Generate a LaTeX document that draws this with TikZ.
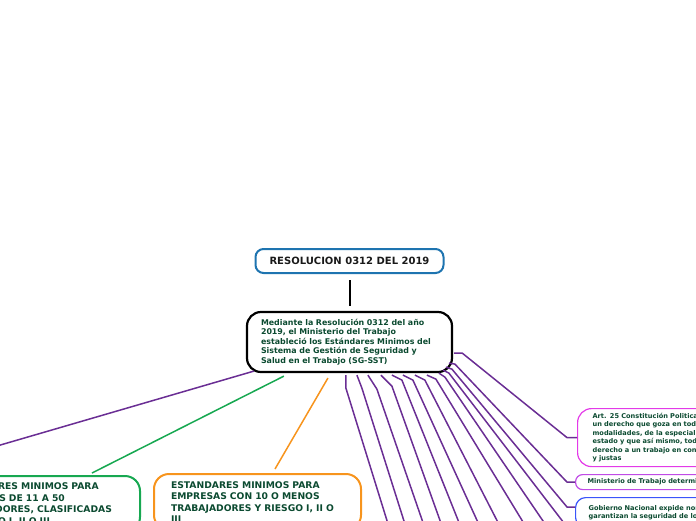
\documentclass[tikz,border=0pt]{standalone}
\usepackage{fontspec}
\setmainfont{DejaVu Sans}
\usetikzlibrary{calc}
\definecolor{txt}{HTML}{0B4A30}
\definecolor{purp}{HTML}{6A2E94}
\definecolor{grn}{HTML}{17A851}
\definecolor{org}{HTML}{F7941D}
\definecolor{topblue}{HTML}{1E74B0}
\definecolor{pinkc}{HTML}{E33AE8}
\definecolor{magc}{HTML}{C04BE6}
\definecolor{bluc}{HTML}{3A55FA}
\begin{document}
\begin{tikzpicture}[x=1pt,y=-1pt,
  topbox/.style={draw=topblue,line width=2pt,rounded corners=8pt,minimum width=188pt,minimum height=24pt,inner sep=0pt,font=\fontsize{10}{12}\selectfont\bfseries,text=black!90},
  mainbox/.style={draw=black,line width=2.2pt,rounded corners=14pt,text width=177pt,inner xsep=14pt,inner ysep=0pt,minimum height=60pt,align=left,font=\fontsize{7.9}{9.5}\selectfont\bfseries,text=txt},
  catbox/.style={line width=2pt,rounded corners=15pt,text width=173pt,inner xsep=17pt,inner ysep=0pt,minimum height=56pt,align=left,anchor=north west,font=\fontsize{9.2}{11.5}\selectfont\bfseries,text=txt},
  sidebox/.style={line width=1.2pt,rounded corners=12pt,text width=260pt,inner ysep=0pt,align=left,anchor=north west,font=\fontsize{6.6}{8.4}\selectfont\bfseries,text=txt},
  pl/.style={draw=purp,line width=1.5pt,line join=round},
  gl/.style={draw=grn,line width=1.5pt},
  ol/.style={draw=org,line width=1.5pt},
]
\useasboundingbox (0,0) rectangle (696,520);
\clip (0,0) rectangle (696,520);

% nodes
\node[topbox] (t) at (349.5,261) {RESOLUCION 0312 DEL 2019};
\node[mainbox] (m) at (349.5,342) {Mediante la Resolución 0312 del año\\2019, el Ministerio del Trabajo\\estableció los Estándares Minimos del\\Sistema de Gestión de Seguridad y\\Salud en el Trabajo (SG-SST)};
\node[catbox,draw=org] (o) at (153,473) {ESTANDARES MINIMOS PARA\\EMPRESAS CON 10 O MENOS\\TRABAJADORES Y RIESGO I, II O\\III};
\node[catbox,draw=grn] (gr) at (-68,475) {ESTANDARES MINIMOS PARA\\EMPRESAS DE 11 A 50\\TRABAJADORES, CLASIFICADAS\\EN RIESGO I, II O III};
\node[sidebox,draw=pinkc,inner xsep=15pt,minimum height=58pt,rounded corners=14pt] (p) at (577,408) {Art. 25 Constitución Politica: el trabajo es\\un derecho que goza en todas sus\\modalidades, de la especial protección del\\estado y que así mismo, toda persona tiene\\derecho a un trabajo en condiciones dignas\\y justas};
\node[sidebox,draw=magc,inner xsep=12pt,minimum height=15pt,rounded corners=7pt] (mi) at (575,474) {Ministerio de Trabajo determina};
\node[sidebox,draw=bluc,inner xsep=13pt,minimum height=30pt,rounded corners=10pt] (g) at (575,497) {Gobierno Nacional expide normas que\\garantizan la seguridad de los trabajadores};

% free ends
\coordinate (L) at (-60,462.6);
\coordinate (b1) at (393,540);
\coordinate (b2) at (410,540);
\coordinate (b3) at (429,540);
\coordinate (b4) at (447,540);
\coordinate (b5) at (466,540);
\coordinate (b6) at (486,540);
\coordinate (b7) at (507,540);
\coordinate (b8) at (534,540);
\coordinate (b9) at (556,540);
\coordinate (b10) at (577,540);

% connectors
\draw[line width=2pt,shorten <=6pt,shorten >=5pt] (t) -- (m);
\draw[pl] ($(m.south west)+(8,-2)$) -- (L);
\draw[gl] ($(m.south west)+(38,3)$) -- ($(gr.north west)+(160,-2)$);
\draw[ol] ($(m.south west)+(82,5)$) -- ($(o.north west)+(122,-4)$);

\draw[pl] ($(m.south west)+(100,2)$) -- ($(m.south west)+(100,15)$) -- (b1);
\draw[pl] ($(m.south west)+(111,2)$) -- ($(m.south west)+(116,15)$) -- (b2);
\draw[pl] ($(m.south west)+(122,2)$) -- ($(m.south west)+(131,16)$) -- (b3);
\draw[pl] ($(m.south west)+(135,2)$) -- ($(m.south west)+(146,13)$) -- (b4);
\draw[pl] ($(m.south west)+(146,2)$) -- ($(m.south west)+(156,7)$) -- (b5);
\draw[pl] ($(m.south west)+(157,2)$) -- ($(m.south west)+(167,7)$) -- (b6);
\draw[pl] ($(m.south west)+(169,2)$) -- ($(m.south west)+(179,7)$) -- (b7);
\draw[pl] ($(m.south west)+(181,2)$) -- ($(m.south west)+(190,6)$) -- (b8);
\draw[pl] ($(m.south west)+(193,0)$) -- ($(m.south west)+(199,4)$) -- (b9);
\draw[pl] ($(m.south west)+(197,-3)$) -- ($(m.south west)+(203,0)$) -- (b10);
\draw[pl] ($(m.south west)+(200,-6)$) -- ($(m.south west)+(206,-4)$) -- ($(g.north west)+(-8,10)$) -- ($(g.north west)+(0,10)$);
\draw[pl] ($(m.south west)+(203,-10)$) -- ($(m.south west)+(209,-9)$) -- ($(mi.west)+(-8,0)$) -- (mi.west);
\draw[pl] ($(m.east)+(1,11)$) -- ($(m.east)+(9,11)$) -- ($(p.west)+(-10,0)$) -- (p.west);
\end{tikzpicture}
\end{document}
